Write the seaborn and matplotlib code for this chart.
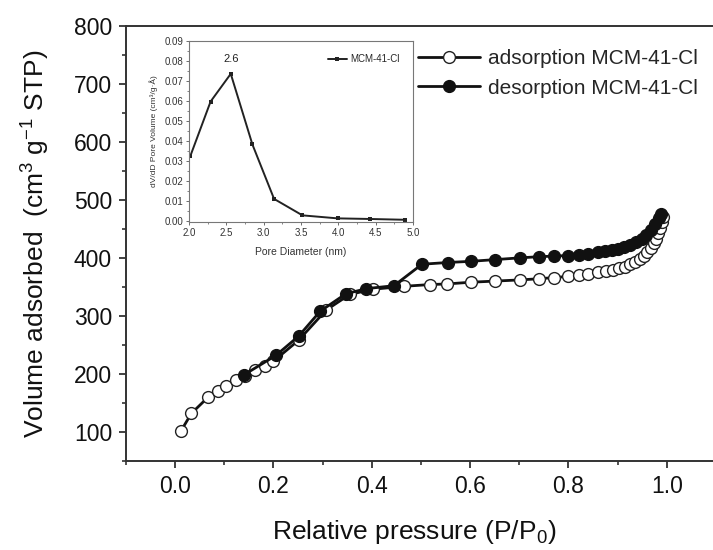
import pandas as pd
import seaborn as sns
import matplotlib.pyplot as plt
from matplotlib.ticker import MultipleLocator

# N2 isotherm, adsorption branch (open circles)
ads_p = [0.012, 0.033, 0.067, 0.087, 0.103, 0.123, 0.143, 0.163, 0.182, 0.200,
         0.251, 0.307, 0.355, 0.403, 0.466, 0.518, 0.552, 0.601, 0.651, 0.701,
         0.740, 0.770, 0.799, 0.821, 0.840, 0.859, 0.876, 0.890, 0.902, 0.914,
         0.925, 0.936, 0.945, 0.953, 0.960, 0.967, 0.973, 0.978, 0.983, 0.987,
         0.990, 0.993]
ads_v = [102, 132, 160, 171, 180, 189, 197, 206, 214, 222,
         258, 310, 337, 346, 351, 354, 355, 358, 360, 362,
         364, 366, 368, 370, 372, 375, 377, 379, 382, 385,
         389, 393, 398, 404, 410, 417, 425, 433, 442, 452,
         462, 470]

# desorption branch (filled circles)
des_p = [0.989, 0.984, 0.976, 0.967, 0.958, 0.949, 0.938, 0.926, 0.913, 0.901,
         0.889, 0.874, 0.859, 0.840, 0.821, 0.799, 0.770, 0.740, 0.701, 0.651,
         0.601, 0.554, 0.502, 0.445, 0.389, 0.347, 0.295, 0.251, 0.205, 0.141]
des_v = [475, 468, 458, 448, 439, 433, 427, 422, 419, 416,
         413, 411, 410, 407, 405, 404, 403, 402, 400, 397,
         394, 392, 389, 352, 347, 338, 308, 265, 232, 199]

# pore size distribution (inset)
pore_d = [2.02, 2.29, 2.56, 2.85, 3.14, 3.52, 3.99, 4.42, 4.89]
pore_v = [0.0327, 0.0597, 0.0735, 0.0383, 0.0112, 0.0030, 0.0015, 0.0012, 0.0008]

ads = pd.DataFrame({'p': ads_p, 'v': ads_v})
des = pd.DataFrame({'p': des_p, 'v': des_v})
psd = pd.DataFrame({'d': pore_d, 'dv': pore_v})

sns.set_theme(style="ticks")
plt.rcParams['font.family'] = ['Liberation Sans', 'DejaVu Sans']
plt.rcParams['mathtext.fontset'] = 'custom'
plt.rcParams['mathtext.rm'] = 'Liberation Sans'
plt.rcParams['mathtext.it'] = 'Liberation Sans'

ink = '#111111'
fig = plt.figure(figsize=(7.13, 5.5), dpi=100)
ax = fig.add_axes([0.1767, 0.1618, 0.8275, 0.7915])

sns.lineplot(data=ads, x='p', y='v', sort=False, estimator=None, ax=ax,
             color=ink, lw=2, marker='o', markersize=8.5, markerfacecolor='white',
             markeredgecolor='#222222', markeredgewidth=1.0,
             label='adsorption MCM-41-Cl')
sns.lineplot(data=des, x='p', y='v', sort=False, estimator=None, ax=ax,
             color=ink, lw=2, marker='o', markersize=8.5, markerfacecolor=ink,
             markeredgecolor=ink, markeredgewidth=1.0,
             label='desorption MCM-41-Cl')

ax.set_xlim(-0.1, 1.1)
ax.set_ylim(50, 800)
ax.xaxis.set_minor_locator(MultipleLocator(0.1))
ax.yaxis.set_minor_locator(MultipleLocator(50))
ax.set_xticks([0.0, 0.2, 0.4, 0.6, 0.8, 1.0])
ax.set_yticks([100, 200, 300, 400, 500, 600, 700, 800])
ax.tick_params(which='major', length=5, width=1.3, labelsize=16.5, color='#333333',
               labelcolor=ink, pad=5)
ax.tick_params(which='minor', length=3, width=1.2, color='#333333')
for s in ax.spines.values():
    s.set_color('#333333')
    s.set_linewidth(1.4)
    s.set_visible(True)

ax.set_xlabel('Relative pressure (P/P$_0$)', fontsize=19, color=ink)
ax.xaxis.set_label_coords(0.488, -0.13)
ax.set_ylabel('Volume adsorbed  (cm$^3$ g$^{-1}$ STP)', fontsize=19, color=ink,
              labelpad=16)

ax.legend(loc='upper left', bbox_to_anchor=(0.48, 0.965), frameon=False,
          fontsize=15, handlelength=3.0, handletextpad=0.4, labelspacing=0.5,
          borderaxespad=0.0)

# inset: pore size distribution
ins = fig.add_axes([0.265, 0.5964, 0.3142, 0.3296])
sns.lineplot(data=psd, x='d', y='dv', sort=False, estimator=None, ax=ins,
             color='#222222', lw=1.4, marker='s', markersize=3.2, markeredgewidth=0,
             label='MCM-41-Cl')
ins.set_xlim(2.0, 5.0)
ins.set_ylim(-0.0003, 0.09)
ins.xaxis.set_major_locator(MultipleLocator(0.5))
ins.xaxis.set_minor_locator(MultipleLocator(0.25))
ins.yaxis.set_major_locator(MultipleLocator(0.01))
ins.yaxis.set_minor_locator(MultipleLocator(0.005))
ins.xaxis.set_major_formatter(plt.FormatStrFormatter('%.1f'))
ins.yaxis.set_major_formatter(plt.FormatStrFormatter('%.2f'))
ins.tick_params(which='major', length=2.5, width=0.6, labelsize=7, pad=1.5,
                color='#555555', labelcolor='#333333')
ins.tick_params(which='minor', length=1.5, width=0.5, color='#555555')
for s in ins.spines.values():
    s.set_color('#777777')
    s.set_linewidth(0.8)
ins.set_xlabel('Pore Diameter (nm)', fontsize=7.5, color='#333333', labelpad=7)
ins.set_ylabel('dV/dD Pore Volume (cm³/g·Å)', fontsize=6, color='#333333', labelpad=5)
ins.annotate('2.6', xy=(2.57, 0.0785), ha='center', va='bottom', fontsize=8,
             color='#222222')
ins.legend(loc='upper right', frameon=False, fontsize=7, handlelength=2.0,
           handletextpad=0.3, borderaxespad=1.0)

fig.savefig('out.png', dpi=100)
